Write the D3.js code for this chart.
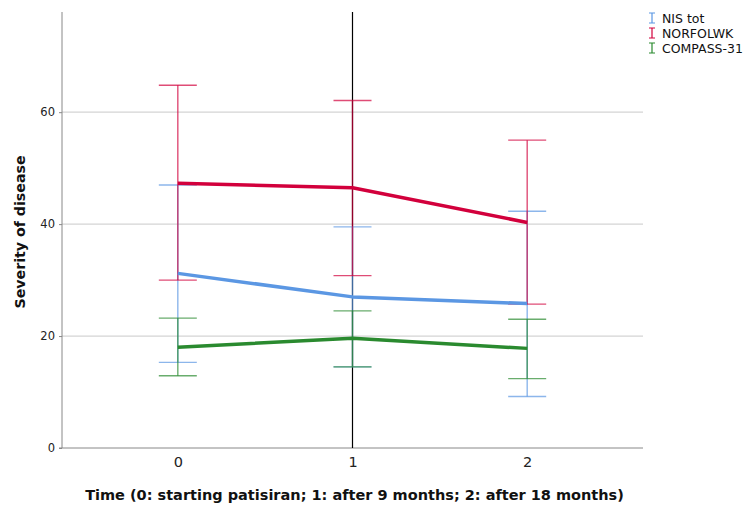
<!DOCTYPE html>
<html><head><meta charset="utf-8">
<script src="https://cdn.jsdelivr.net/npm/d3@7"></script>
<style>body{margin:0;background:#fff}svg{display:block}</style>
</head><body>
<svg id="c" width="750" height="508"></svg>
<script>
const timepoints = [0, 1, 2];
const seriesNames = ["NIS tot", "NORFOLWK", "COMPASS-31"];
const nisMean = [31.2, 27.0, 25.8];
const nisLow = [15.3, 14.5, 9.2];
const nisHigh = [47.0, 39.5, 42.3];
const norfMean = [47.3, 46.5, 40.3];
const norfLow = [30.0, 30.8, 25.7];
const norfHigh = [64.8, 62.1, 55.0];
const compMean = [18.0, 19.6, 17.8];
const compLow = [12.9, 14.5, 12.4];
const compHigh = [23.2, 24.5, 23.0];
const yTicks = [0, 20, 40, 60];
const xTicks = [0, 1, 2];
const colors = ["#5b97e3", "#d2003c", "#2a8a2f"];

const series = [
  {name: seriesNames[0], mean: nisMean, lo: nisLow, hi: nisHigh, color: colors[0]},
  {name: seriesNames[1], mean: norfMean, lo: norfLow, hi: norfHigh, color: colors[1]},
  {name: seriesNames[2], mean: compMean, lo: compLow, hi: compHigh, color: colors[2]}
];

const svg = d3.select("#c");
const L = 62, R = 643, T = 12, B = 448;
const x = d3.scaleLinear().domain([-0.663, 2.663]).range([L, R]);
const y = d3.scaleLinear().domain([0, 77.9]).range([B, T]);
const font = "'DejaVu Sans', sans-serif";

// gridlines
svg.append("g").selectAll("line").data(yTicks.filter(d => d > 0)).join("line")
  .attr("x1", L).attr("x2", R).attr("y1", d => y(d)).attr("y2", d => y(d))
  .attr("stroke", "#d4d4d4").attr("stroke-width", 1.2);

// y axis
const ya = svg.append("g").attr("transform", `translate(${L},0)`)
  .call(d3.axisLeft(y).tickValues(yTicks).tickSize(3).tickPadding(4).tickFormat(d3.format("d")));
ya.select(".domain").attr("stroke", "#888").attr("d", `M-3,${y(0)}H0V${T}`);
ya.selectAll(".tick line").attr("stroke", "#888");
ya.selectAll("text").attr("font-family", font).attr("font-size", 11.5).attr("fill", "#222");

// x axis
const xa = svg.append("g").attr("transform", `translate(0,${B})`)
  .call(d3.axisBottom(x).tickValues(xTicks).tickSize(0).tickPadding(9).tickFormat(d3.format("d")));
xa.select(".domain").attr("stroke", "#888").attr("d", `M${L},0H${R}`);
xa.selectAll("text").attr("font-family", font).attr("font-size", 14.5).attr("fill", "#222");

// vertical reference line at x=1
svg.append("line").attr("x1", x(1)).attr("x2", x(1)).attr("y1", T).attr("y2", B)
  .attr("stroke", "#000").attr("stroke-width", 1.2);

// error bars
const capW = 19;
series.forEach(s => {
  const g = svg.append("g").attr("stroke", s.color).attr("stroke-opacity", 0.7).attr("stroke-width", 1.4);
  timepoints.forEach((t, i) => {
    g.append("line").attr("x1", x(t)).attr("x2", x(t)).attr("y1", y(s.lo[i])).attr("y2", y(s.hi[i]));
    g.append("line").attr("x1", x(t) - capW).attr("x2", x(t) + capW).attr("y1", y(s.lo[i])).attr("y2", y(s.lo[i]));
    g.append("line").attr("x1", x(t) - capW).attr("x2", x(t) + capW).attr("y1", y(s.hi[i])).attr("y2", y(s.hi[i]));
  });
});

// mean lines
const line = d3.line().x((d, i) => x(timepoints[i])).y(d => y(d));
series.forEach(s => {
  svg.append("path").attr("d", line(s.mean)).attr("fill", "none")
    .attr("stroke", s.color).attr("stroke-width", 3.5).attr("stroke-linejoin", "round");
});

// axis titles
svg.append("text").attr("transform", `translate(25,${(T + B) / 2 + 2}) rotate(-90)`)
  .attr("text-anchor", "middle").attr("font-family", font).attr("font-weight", "bold")
  .attr("font-size", 14.2).attr("fill", "#111").text("Severity of disease");
svg.append("text").attr("x", x(1) + 2).attr("y", 500).attr("text-anchor", "middle")
  .attr("font-family", font).attr("font-weight", "bold").attr("font-size", 14.5).attr("fill", "#111")
  .text("Time (0: starting patisiran; 1: after 9 months; 2: after 18 months)");

// legend
const lg = svg.append("g").attr("transform", "translate(652,18)");
series.forEach((s, i) => {
  const g = lg.append("g").attr("transform", `translate(0,${i * 15})`);
  g.append("path").attr("d", "M-3,-5H3M0,-5V5M-3,5H3").attr("stroke", s.color).attr("stroke-width", 1.2).attr("fill", "none");
  g.append("text").attr("x", 10).attr("y", 4.5).attr("font-family", font).attr("font-size", 12.5)
    .attr("fill", "#111").text(s.name);
});
</script>
</body></html>
